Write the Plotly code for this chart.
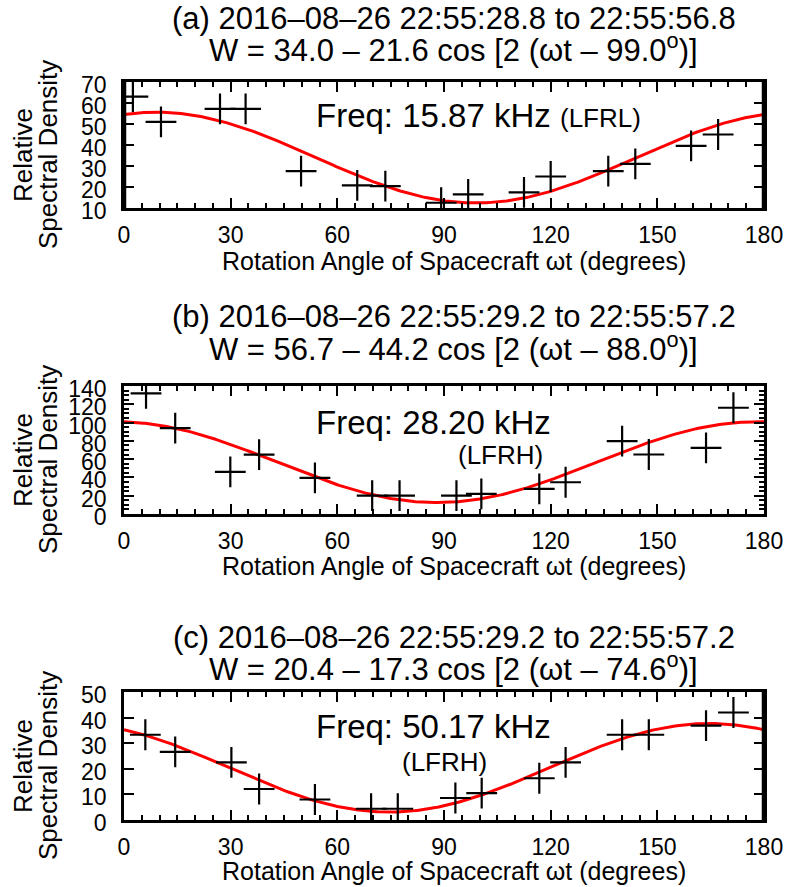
import numpy as np
import plotly.graph_objects as go

# ---------------- data ----------------
panel_titles = ["(a) 2016–08–26 22:55:28.8 to 22:55:56.8",
                "(b) 2016–08–26 22:55:29.2 to 22:55:57.2",
                "(c) 2016–08–26 22:55:29.2 to 22:55:57.2"]
fit_A = [34.0, 56.7, 20.4]
fit_B = [21.6, 44.2, 17.3]
fit_phase = [99.0, 88.0, 74.6]
freq_labels = ["15.87", "28.20", "50.17"]
receiver_labels = ["(LFRL)", "(LFRH)", "(LFRH)"]

angles_a = [2.5, 10.4, 27.0, 34.2, 49.8, 65.6, 73.5, 89.2, 96.8, 112.5, 120.0, 136.2, 143.8, 159.5, 167.1]
values_a = [63.0, 51.0, 57.2, 57.2, 27.6, 20.8, 20.4, 12.5, 16.5, 17.4, 25.0, 27.6, 31.0, 39.6, 45.0]
angles_b = [6.2, 14.4, 29.9, 38.0, 53.7, 69.8, 77.5, 93.5, 100.5, 116.8, 124.2, 140.1, 147.6, 163.7, 171.4]
values_b = [132.0, 94.0, 46.0, 65.0, 39.5, 20.1, 20.1, 20.1, 22.0, 27.4, 34.7, 79.7, 65.1, 72.4, 116.2]
angles_c = [6.0, 14.4, 30.2, 38.0, 53.7, 69.5, 77.0, 93.2, 100.6, 116.8, 124.2, 140.1, 147.6, 163.7, 171.4]
values_c = [33.3, 26.6, 22.5, 12.1, 8.0, 4.4, 4.4, 8.6, 10.5, 16.3, 22.5, 33.3, 33.3, 36.9, 42.0]

y_ranges = [[10, 70], [0, 140], [0, 50]]
y_dticks = [10, 20, 10]
y_minor = [None, 5, None]
x_tickvals = [0, 30, 60, 90, 120, 150, 180]

# label anchor positions in data units (angle, value)
freq_pos = [(87, 54), (87, 100), (87, 36.5)]
recv_pos = [(134, 53), (106, 65), (90, 22.5)]

angles = [angles_a, angles_b, angles_c]
values = [values_a, values_b, values_c]

# ---------------- layout geometry (pixels) ----------------
W, H = 789, 887
x0_px, x1_px = 124, 764
frames = [(82, 208), (386, 514), (692, 820)]   # top, bottom in px
title_y = [(18, 48), (317, 347), (637, 667)]
xtitle_y = [261, 566, 871]
FONT = "Liberation Sans, Arial, Helvetica, sans-serif"

def py(p):
    return 1 - p / H

def px(p):
    return p / W

def ann(x, y, text, size, xref="paper", yref="paper", conv=True, **kw):
    fig.add_annotation(x=px(x) if conv else x, y=py(y) if conv else y,
                       xref=xref, yref=yref, text=text,
                       showarrow=False, xanchor="center", yanchor="middle",
                       font=dict(family=FONT, size=size, color="black"), **kw)

fig = go.Figure()
theta = np.linspace(0, 180, 361)

for i in range(3):
    xa = "x" if i == 0 else f"x{i+1}"
    ya = "y" if i == 0 else f"y{i+1}"
    fit = fit_A[i] - fit_B[i] * np.cos(np.deg2rad(2 * (theta - fit_phase[i])))
    fig.add_trace(go.Scatter(x=theta, y=fit, mode="lines",
                             line=dict(color="#ff0000", width=3),
                             xaxis=xa, yaxis=ya, showlegend=False, hoverinfo="skip"))
    fig.add_trace(go.Scatter(x=angles[i], y=values[i], mode="markers",
                             marker=dict(symbol="cross-thin", size=22,
                                         line=dict(color="black", width=2.2)),
                             xaxis=xa, yaxis=ya, showlegend=False))

    top, bot = frames[i]
    xkey = "xaxis" if i == 0 else f"xaxis{i+1}"
    ykey = "yaxis" if i == 0 else f"yaxis{i+1}"
    xdict = dict(domain=[px(x0_px), px(x1_px)], range=[0, 180], anchor=ya,
                 tickvals=x_tickvals, ticks="inside", ticklen=10, tickwidth=2,
                 tickcolor="black", showline=True, linecolor="black", linewidth=2.5,
                 mirror="allticks", showgrid=False, zeroline=False, automargin=False,
                 ticklabelstandoff=5,
                 tickfont=dict(family=FONT, size=23, color="black"),
                 minor=dict(dtick=5, ticks="inside", ticklen=5, tickwidth=2,
                            tickcolor="black", showgrid=False))
    ydict = dict(domain=[py(bot), py(top)], range=y_ranges[i], anchor=xa,
                 dtick=y_dticks[i], tick0=0, ticks="inside", ticklen=10, tickwidth=2,
                 tickcolor="black", showline=True, linecolor="black", linewidth=2.5,
                 mirror="allticks", showgrid=False, zeroline=False, automargin=False,
                 ticklabelstandoff=10, ticklabelshift=3,
                 tickfont=dict(family=FONT, size=23, color="black"))
    if y_minor[i]:
        ydict["minor"] = dict(dtick=y_minor[i], ticks="inside", ticklen=5, tickwidth=2,
                              tickcolor="black", showgrid=False)
    fig.update_layout({xkey: xdict, ykey: ydict})

    # titles
    ann(454, title_y[i][0], panel_titles[i], 31)
    eq = (f"W = {fit_A[i]:.1f} – {fit_B[i]:.1f} cos [2 (ωt – {fit_phase[i]:.1f}"
          f"<sup>o</sup>)]")
    ann(454, title_y[i][1], eq, 31)
    # x axis title
    ann(454, xtitle_y[i], "Rotation Angle of Spacecraft ωt (degrees)", 25)
    # y axis title (two lines)
    ymid = (top + bot) / 2 + 10
    ann(23, ymid, "Relative", 26, textangle=-90)
    ann(48, ymid, "Spectral Density", 26, textangle=-90)

    # Freq / receiver labels in data coordinates
    ann(freq_pos[i][0], freq_pos[i][1], f"Freq: {freq_labels[i]} kHz", 33,
        xref=xa, yref=ya, conv=False)
    ann(recv_pos[i][0], recv_pos[i][1], receiver_labels[i], 26,
        xref=xa, yref=ya, conv=False)

# thicker frame edges as in the reference
thick_edges = [(0, x0_px), (0, x1_px), (2, x1_px)]
for idx, xe in thick_edges:
    top, bot = frames[idx]
    fig.add_shape(type="line", xref="paper", yref="paper",
                  x0=px(xe), x1=px(xe), y0=py(bot + 1), y1=py(top - 1),
                  line=dict(color="black", width=4.5), layer="above")

fig.update_layout(width=W, height=H, autosize=False,
                  margin=dict(l=0, r=0, t=0, b=0, pad=0, autoexpand=False),
                  paper_bgcolor="white", plot_bgcolor="white")

fig.write_html("out.html")
